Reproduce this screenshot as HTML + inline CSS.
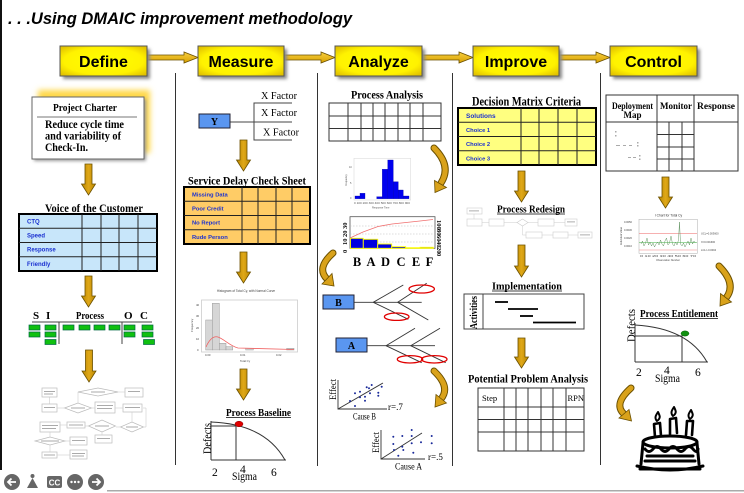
<!DOCTYPE html>
<html><head><meta charset="utf-8"><style>
html,body{margin:0;padding:0;background:#fff;}
svg{display:block;}
.se{font-family:"Liberation Serif",serif;}
.sa{font-family:"Liberation Sans",Arial,sans-serif;}
</style></head><body>
<svg width="744" height="493" viewBox="0 0 744 493" xmlns="http://www.w3.org/2000/svg">
<defs>
<radialGradient id="yg" cx="50%" cy="50%" r="65%">
<stop offset="0%" stop-color="#ffff00"/><stop offset="70%" stop-color="#fff200"/><stop offset="100%" stop-color="#e2c200"/>
</radialGradient>
<linearGradient id="ag" x1="0" y1="0" x2="1" y2="0">
<stop offset="0%" stop-color="#b88600"/><stop offset="50%" stop-color="#e0a818"/><stop offset="100%" stop-color="#b88600"/>
</linearGradient>
<linearGradient id="hg" x1="0" y1="0" x2="0" y2="1">
<stop offset="0%" stop-color="#f8d040"/><stop offset="100%" stop-color="#d8a000"/>
</linearGradient>
<filter id="bl" x="-20%" y="-20%" width="140%" height="140%"><feGaussianBlur stdDeviation="1.5"/></filter>
<filter id="bl3" x="-20%" y="-20%" width="140%" height="140%"><feGaussianBlur stdDeviation="3"/></filter>
</defs>

<!-- borders -->
<rect x="0" y="0" width="2" height="470" fill="#111"/>
<rect x="107" y="490" width="637" height="1.5" fill="#aaa"/>

<!-- title -->
<text x="8" y="24" class="sa" font-size="17" font-weight="bold" font-style="italic" textLength="344" lengthAdjust="spacingAndGlyphs">. . .Using DMAIC improvement methodology</text>

<!-- column dividers -->
<g stroke="#333" stroke-width="1">
<line x1="175.5" y1="73" x2="175.5" y2="465"/>
<line x1="317.5" y1="73" x2="317.5" y2="466"/>
<line x1="452.5" y1="73" x2="452.5" y2="466"/>
<line x1="600.5" y1="73" x2="600.5" y2="465"/>
</g>

<!-- phase arrows -->
<g fill="url(#hg)" stroke="#6b5000" stroke-width="0.8">
<polygon points="147,55 184,55 184,52 198,57.5 184,63 184,60 147,60"/>
<polygon points="284,55 321,55 321,52 335,57.5 321,63 321,60 284,60"/>
<polygon points="422,55 459,55 459,52 473,57.5 459,63 459,60 422,60"/>
<polygon points="559,55 596,55 596,52 610,57.5 596,63 596,60 559,60"/>
</g>

<!-- phase boxes -->
<g>
<rect x="63" y="49" width="87" height="30" fill="#888" filter="url(#bl)"/>
<rect x="201" y="49" width="86" height="30" fill="#888" filter="url(#bl)"/>
<rect x="338" y="49" width="87" height="30" fill="#888" filter="url(#bl)"/>
<rect x="476" y="49" width="86" height="30" fill="#888" filter="url(#bl)"/>
<rect x="613" y="49" width="87" height="30" fill="#888" filter="url(#bl)"/>
<g fill="url(#yg)" stroke="#555" stroke-width="1">
<rect x="60" y="46" width="87" height="30"/>
<rect x="198" y="46" width="86" height="30"/>
<rect x="335" y="46" width="87" height="30"/>
<rect x="473" y="46" width="86" height="30"/>
<rect x="610" y="46" width="87" height="30"/>
</g>
<g class="sa" font-size="16" font-weight="bold" text-anchor="middle" fill="#000">
<text x="103.5" y="67">Define</text>
<text x="241" y="67">Measure</text>
<text x="378.5" y="67">Analyze</text>
<text x="516" y="67">Improve</text>
<text x="653.5" y="67">Control</text>
</g>
</g>

<!-- down arrows -->
<g fill="url(#ag)" stroke="#6b5000" stroke-width="0.8">
<polygon points="85,164 92,164 92,184 95.5,184 88.5,195 81.5,184 85,184"/>
<polygon points="85,276 92,276 92,296 95.5,296 88.5,307 81.5,296 85,296"/>
<polygon points="85.5,350 92.5,350 92.5,371 96,371 89,382 82,371 85.5,371"/>
<polygon points="240,140 247,140 247,160 250.5,160 243.5,171 236.5,160 240,160"/>
<polygon points="240,252 247,252 247,272 250.5,272 243.5,283 236.5,272 240,272"/>
<polygon points="240,369 247,369 247,389 250.5,389 243.5,400 236.5,389 240,389"/>
<polygon points="518,171 525,171 525,191 528.5,191 521.5,202 514.5,191 518,191"/>
<polygon points="518,245 525,245 525,266 528.5,266 521.5,277 514.5,266 518,266"/>
<polygon points="518,338 525,338 525,357 528.5,357 521.5,368 514.5,357 518,357"/>
<polygon points="662,177 669,177 669,197 672.5,197 665.5,208 658.5,197 662,197"/>
</g>

<!-- curved arrows -->
<g fill="none" stroke-linecap="round">
<g stroke="#6b5000" stroke-width="7">
<path d="M434,148 Q452,166 441,183"/>
<path d="M333,253 Q316,268 327,279"/>
<path d="M434,371 Q451,387 441,399"/>
<path d="M719,266 Q737,284 726,298"/>
<path d="M631,388 Q613,404 624,414"/>
</g>
<g stroke="#d9a21a" stroke-width="5">
<path d="M434,148 Q452,166 441,183"/>
<path d="M333,253 Q316,268 327,279"/>
<path d="M434,371 Q451,387 441,399"/>
<path d="M719,266 Q737,284 726,298"/>
<path d="M631,388 Q613,404 624,414"/>
</g>
</g>
<g fill="#d9a21a" stroke="#6b5000" stroke-width="0.8">
<polygon points="446.5,187.5 434.5,180.5 435,192.5"/>
<polygon points="332,273.5 322,284 334,286"/>
<polygon points="446.5,403 436,394.5 435,407"/>
<polygon points="731.5,302 720.5,293.5 720,306"/>
<polygon points="629,409.5 619,418 631.5,421"/>
</g>

<!-- ========== DEFINE ========== -->
<rect x="38" y="90" width="112" height="63" fill="#ffd84a" filter="url(#bl3)"/>
<rect x="34" y="99" width="112" height="62" fill="#999" filter="url(#bl)"/>
<rect x="32" y="97" width="112" height="62" fill="#fff" stroke="#666" stroke-width="1"/>
<text x="53" y="111" class="se" font-size="10" font-weight="bold" textLength="64" lengthAdjust="spacingAndGlyphs">Project Charter</text>
<line x1="37" y1="117" x2="137" y2="117" stroke="#777" stroke-width="1"/>
<g class="se" font-size="11.5" font-weight="bold">
<text x="45" y="128" textLength="79" lengthAdjust="spacingAndGlyphs">Reduce cycle time</text>
<text x="45" y="139.5" textLength="76" lengthAdjust="spacingAndGlyphs">and variability of</text>
<text x="45" y="151" textLength="43" lengthAdjust="spacingAndGlyphs">Check-In.</text>
</g>

<text x="45" y="212" class="se" font-size="12" font-weight="bold" textLength="98" lengthAdjust="spacingAndGlyphs">Voice of the Customer</text>
<rect x="19" y="214" width="138" height="57" fill="#c8e6fa" stroke="#000" stroke-width="2"/>
<g stroke="#222" stroke-width="1">
<line x1="19" y1="228.25" x2="157" y2="228.25"/><line x1="19" y1="242.5" x2="157" y2="242.5"/><line x1="19" y1="256.75" x2="157" y2="256.75"/>
<line x1="82" y1="214" x2="82" y2="271"/><line x1="101" y1="214" x2="101" y2="271"/><line x1="119" y1="214" x2="119" y2="271"/><line x1="138" y1="214" x2="138" y2="271"/>
</g>
<g class="sa" font-size="6" font-weight="bold" fill="#1a30d0">
<text x="27" y="223.5">CTQ</text><text x="27" y="237.5">Speed</text><text x="27" y="251.5">Response</text><text x="27" y="266">Friendly</text>
</g>

<!-- SIPOC -->
<g class="se" font-size="11" font-weight="bold">
<text x="33" y="319">S</text><text x="46" y="319">I</text>
<text x="76" y="319" textLength="28" lengthAdjust="spacingAndGlyphs">Process</text>
<text x="124" y="319">O</text><text x="140" y="319">C</text>
</g>
<g stroke="#444" stroke-width="1">
<line x1="32" y1="322" x2="152" y2="322"/>
<line x1="59" y1="322" x2="59" y2="344"/>
<line x1="122" y1="322" x2="122" y2="344"/>
</g>
<g fill="#10c010" stroke="#064" stroke-width="0.7">
<rect x="29" y="325" width="11" height="5"/><rect x="29" y="332" width="11" height="5"/>
<rect x="45" y="325" width="11" height="5"/><rect x="45" y="332" width="11" height="5"/><rect x="45" y="339.5" width="11" height="5"/>
<rect x="63" y="325" width="11" height="5"/><rect x="79" y="325" width="11" height="5"/><rect x="94" y="325" width="11" height="5"/><rect x="109" y="325" width="11" height="5"/>
<rect x="124" y="325" width="11" height="5"/><rect x="124" y="332" width="11" height="5"/>
<rect x="142" y="325" width="11" height="5"/><rect x="142" y="332" width="11" height="5"/><rect x="143.5" y="339.5" width="11" height="5"/>
</g>

<!-- tiny flowchart -->
<g fill="#fff" stroke="#bbb" stroke-width="0.7">
<rect x="42" y="388" width="15" height="9"/>
<polygon points="78,392 98,388 118,392 98,396"/>
<rect x="125" y="388" width="18" height="9"/>
<rect x="42" y="404" width="15" height="8"/>
<polygon points="64.5,408 78,403 91.5,408 78,413"/>
<rect x="95" y="402" width="20" height="11"/>
<rect x="123" y="404" width="19" height="8"/>
<rect x="40" y="422" width="20" height="10"/>
<rect x="67" y="422" width="18" height="6"/>
<polygon points="88.5,426 102,420 115.5,426 102,432"/>
<polygon points="120.5,427 132,422 143.5,427 132,432"/>
<rect x="95" y="435" width="17" height="8"/>
<polygon points="35,441 50,437 65,441 50,445"/>
<rect x="70" y="437" width="17" height="8"/>
<rect x="42" y="452" width="15" height="6"/>
<rect x="70" y="450" width="17" height="9"/>
</g>
<g stroke="#ccc" stroke-width="0.6">
<line x1="49.5" y1="397" x2="49.5" y2="404"/><line x1="57" y1="408" x2="64" y2="408"/><line x1="91" y1="408" x2="95" y2="408"/>
<line x1="78" y1="403" x2="78" y2="392"/><line x1="118" y1="392" x2="125" y2="392"/><line x1="115" y1="408" x2="123" y2="408"/>
<line x1="132" y1="412" x2="132" y2="422"/><line x1="120" y1="427" x2="116" y2="427"/><line x1="88" y1="426" x2="85" y2="426"/>
<line x1="67" y1="425" x2="60" y2="425"/><line x1="102" y1="432" x2="102" y2="435"/><line x1="50" y1="432" x2="50" y2="437"/>
<line x1="65" y1="441" x2="70" y2="441"/><line x1="50" y1="445" x2="50" y2="452"/><line x1="57" y1="455" x2="70" y2="455"/>
<line x1="143" y1="408" x2="146" y2="408"/><line x1="146" y1="408" x2="146" y2="427"/><line x1="146" y1="427" x2="143" y2="427"/>
</g>
<g fill="#aaa">
<rect x="44" y="391" width="11" height="1"/><rect x="44" y="393.5" width="9" height="1"/>
<rect x="91" y="391.5" width="14" height="1"/><rect x="128" y="391" width="12" height="1"/>
<rect x="44" y="407" width="11" height="1"/><rect x="71" y="407.5" width="14" height="1"/><rect x="97" y="405" width="16" height="1"/><rect x="97" y="408" width="15" height="1"/>
<rect x="125" y="407" width="15" height="1"/><rect x="42" y="425" width="16" height="1"/><rect x="42" y="428" width="14" height="1"/>
<rect x="69" y="424.5" width="14" height="1"/><rect x="95" y="425.5" width="14" height="1"/><rect x="126" y="426.5" width="12" height="1"/>
<rect x="97" y="438" width="13" height="1"/><rect x="41" y="440.5" width="18" height="1"/><rect x="72" y="440" width="13" height="1"/>
<rect x="44" y="454.5" width="11" height="1"/><rect x="72" y="453" width="13" height="1"/><rect x="72" y="455.5" width="12" height="1"/>
</g>

<!-- nav icons -->
<g>
<circle cx="12" cy="482" r="8" fill="#666"/>
<path d="M16,482 H8 M11.5,478.5 L8,482 L11.5,485.5" stroke="#fff" stroke-width="1.8" fill="none"/>
<polygon points="32.5,478 27,488 38,488" fill="#666"/>
<circle cx="32.5" cy="476" r="2" fill="#666"/>
<rect x="47" y="476" width="15" height="12" rx="2" fill="#666"/>
<text x="54.5" y="485.5" class="sa" font-size="8" font-weight="bold" fill="#fff" text-anchor="middle">CC</text>
<circle cx="75" cy="482" r="8" fill="#666"/>
<circle cx="71.5" cy="482" r="1.2" fill="#fff"/><circle cx="75" cy="482" r="1.2" fill="#fff"/><circle cx="78.5" cy="482" r="1.2" fill="#fff"/>
<circle cx="96" cy="482" r="8" fill="#666"/>
<path d="M92,482 H100 M96.5,478.5 L100,482 L96.5,485.5" stroke="#fff" stroke-width="1.8" fill="none"/>
</g>

<!-- ========== MEASURE ========== -->
<g class="se" font-size="10.5">
<text x="261" y="99" textLength="36" lengthAdjust="spacingAndGlyphs">X Factor</text>
<text x="261" y="116" textLength="36" lengthAdjust="spacingAndGlyphs">X Factor</text>
<text x="263" y="135.5" textLength="36" lengthAdjust="spacingAndGlyphs">X Factor</text>
</g>
<g stroke="#444" stroke-width="1" fill="none">
<polyline points="292,103 254,103 254,140 292,140"/>
<line x1="230" y1="122" x2="292" y2="122"/>
</g>
<rect x="199" y="114" width="31" height="14" fill="#5a96f0" stroke="#223" stroke-width="1"/>
<text x="214.5" y="125" class="se" font-size="10" font-weight="bold" text-anchor="middle">Y</text>

<text x="188" y="184.5" class="se" font-size="12" font-weight="bold" textLength="118" lengthAdjust="spacingAndGlyphs">Service Delay Check Sheet</text>
<rect x="184" y="187" width="126" height="57" fill="#ffcc66" stroke="#000" stroke-width="2"/>
<g stroke="#222" stroke-width="1">
<line x1="184" y1="201.25" x2="310" y2="201.25"/><line x1="184" y1="215.5" x2="310" y2="215.5"/><line x1="184" y1="229.75" x2="310" y2="229.75"/>
<line x1="242" y1="187" x2="242" y2="244"/><line x1="258" y1="187" x2="258" y2="244"/><line x1="276" y1="187" x2="276" y2="244"/><line x1="292" y1="187" x2="292" y2="244"/>
</g>
<g class="sa" font-size="5.8" font-weight="bold" fill="#1a30d0">
<text x="192" y="196.5">Missing Data</text><text x="192" y="210.5">Poor Credit</text><text x="192" y="224.5">No Report</text><text x="192" y="239">Rude Person</text>
</g>

<!-- gray histogram -->
<text x="246" y="292" class="sa" font-size="3.2" fill="#444" text-anchor="middle">Histogram of Total Cy, with Normal Curve</text>
<rect x="201.5" y="300" width="96" height="52" fill="#fff" stroke="#ccc" stroke-width="0.8"/>
<g fill="#d6d6d6" stroke="#999" stroke-width="0.5">
<rect x="205.7" y="320" width="6.6" height="30"/>
<rect x="212.3" y="303.3" width="7" height="46.7"/>
<rect x="219.3" y="343.3" width="6.7" height="6.7"/>
<rect x="226" y="346.7" width="6.7" height="3.3"/>
<rect x="245.7" y="348.3" width="7.6" height="1.7"/>
<rect x="286.7" y="348.3" width="7.3" height="1.7"/>
</g>
<path d="M206,347 C210,338 214,336 218,337 C224,339 230,346 238,348 L294,349.5" fill="none" stroke="#f06060" stroke-width="0.8"/>
<g class="sa" font-size="2.8" fill="#444">
<text x="196" y="306">40</text><text x="196" y="317">30</text><text x="196" y="329">20</text><text x="196" y="340">10</text><text x="197" y="351">0</text>
<text x="205" y="356">0.00</text><text x="240" y="356">0.01</text><text x="276" y="356">0.02</text>
<text x="240" y="362">Total Cy</text>
<text transform="translate(193,332) rotate(-90)">Frequency</text>
</g>

<!-- process baseline -->
<text x="226" y="416" class="se" font-size="10.5" font-weight="bold" textLength="65" lengthAdjust="spacingAndGlyphs">Process Baseline</text>
<line x1="226" y1="417.5" x2="291" y2="417.5" stroke="#000" stroke-width="0.8"/>
<g stroke="#333" stroke-width="1" fill="none">
<line x1="211" y1="421" x2="211" y2="460"/>
<line x1="211" y1="460" x2="286" y2="460"/>
<path d="M211,422 Q265,424 285,460"/>
<polyline points="211,426 236,426 236,460"/>
</g>
<ellipse cx="239" cy="424" rx="4" ry="2.8" fill="#e00000" stroke="#800" stroke-width="0.5"/>
<text transform="translate(211,454) rotate(-90)" class="se" font-size="12" textLength="31" lengthAdjust="spacingAndGlyphs">Defects</text>
<g class="se" font-size="11.5">
<text x="212" y="476">2</text><text x="240" y="473">4</text><text x="271" y="476">6</text>
<text x="232" y="480" textLength="25" lengthAdjust="spacingAndGlyphs">Sigma</text>
</g>

<!-- ========== ANALYZE ========== -->
<text x="351" y="98.5" class="se" font-size="12" font-weight="bold" textLength="72" lengthAdjust="spacingAndGlyphs">Process Analysis</text>
<rect x="329" y="103" width="112" height="38" fill="#fff" stroke="#333" stroke-width="1"/>
<g stroke="#333" stroke-width="1">
<line x1="329" y1="116" x2="441" y2="116"/><line x1="329" y1="128.5" x2="441" y2="128.5"/>
<line x1="348" y1="103" x2="348" y2="141"/><line x1="361" y1="103" x2="361" y2="141"/><line x1="373" y1="103" x2="373" y2="141"/><line x1="385" y1="103" x2="385" y2="141"/><line x1="398" y1="103" x2="398" y2="141"/><line x1="410" y1="103" x2="410" y2="141"/><line x1="423" y1="103" x2="423" y2="141"/>
</g>

<!-- blue histogram -->
<rect x="354" y="158.3" width="56.7" height="41.7" fill="#fff" stroke="#ddd" stroke-width="0.6"/>
<g fill="#0000ee" stroke="#0000a0" stroke-width="0.3">
<rect x="355" y="196" width="5" height="2.7"/>
<rect x="360" y="193.3" width="5" height="5.4"/>
<rect x="376.7" y="196.7" width="5.6" height="2"/>
<rect x="382.3" y="169.3" width="5.4" height="29.4"/>
<rect x="387.7" y="160" width="5.6" height="38.7"/>
<rect x="393.3" y="181.7" width="5" height="17"/>
<rect x="398.3" y="190" width="5" height="8.7"/>
<rect x="403.3" y="196" width="5.7" height="2.7"/>
</g>
<g class="sa" font-size="2.5" fill="#555">
<text x="349" y="168">10</text><text x="350" y="184">5</text><text x="350" y="199">0</text>
<text x="354" y="204" textLength="56" lengthAdjust="spacingAndGlyphs">0 100 200 300 400 500 600 700 800 900</text>
<text x="372" y="208.5">Response Time</text>
<text transform="translate(347,186) rotate(-90)">Frequency</text>
</g>

<!-- pareto -->
<rect x="350" y="216.7" width="85" height="31.6" fill="#fff" stroke="#555" stroke-width="0.8"/>
<g stroke="#bbb" stroke-width="0.5" stroke-dasharray="1.5,1.5">
<line x1="350" y1="226" x2="435" y2="226"/><line x1="350" y1="234" x2="435" y2="234"/><line x1="350" y1="242" x2="435" y2="242"/>
</g>
<g fill="#0000e0" stroke="#ffff00" stroke-width="0.9">
<rect x="350.5" y="238.3" width="12.8" height="10"/>
<rect x="363.3" y="239.3" width="14.4" height="9"/>
<rect x="377.7" y="244" width="14" height="4.3"/>
<rect x="391.7" y="246.7" width="14" height="1.6"/>
<rect x="405.7" y="247.7" width="14.3" height="0.6"/>
<rect x="420" y="247.3" width="13.3" height="1"/>
</g>
<polyline points="350,238 363,232 378,226.5 392,224 406,222.5 420,221 433,219.5" fill="none" stroke="#f07070" stroke-width="0.8"/>
<g class="se" font-size="6.5" font-weight="bold">
<text transform="translate(347,229) rotate(-90)">30</text>
<text transform="translate(347,237) rotate(-90)">20</text>
<text transform="translate(347,245) rotate(-90)">10</text>
<text transform="translate(347,253) rotate(-90)">0</text>
<text transform="translate(437,220) rotate(90)">100</text>
<text transform="translate(437,229) rotate(90)">80</text>
<text transform="translate(437,235) rotate(90)">60</text>
<text transform="translate(437,241) rotate(90)">40</text>
<text transform="translate(437,247) rotate(90)">20</text>
<text transform="translate(437,253) rotate(90)">0</text>
</g>
<g class="se" font-size="12.5" font-weight="bold" text-anchor="middle">
<text x="357" y="266">B</text><text x="371" y="266">A</text><text x="385.5" y="266">D</text><text x="401" y="266">C</text><text x="416" y="266">E</text><text x="429.5" y="266">F</text>
</g>

<!-- fishbone B -->
<rect x="323" y="295" width="31" height="14" fill="#5a96f0" stroke="#223" stroke-width="1"/>
<text x="338.5" y="306" class="se" font-size="10" font-weight="bold" text-anchor="middle">B</text>
<g stroke="#333" stroke-width="0.9" fill="none">
<line x1="354" y1="302.3" x2="421.7" y2="302.3"/>
<line x1="373.3" y1="302.3" x2="403.3" y2="285"/>
<line x1="373.3" y1="302.3" x2="408.3" y2="319.3"/>
<line x1="397.7" y1="302.3" x2="426.7" y2="283.3"/>
<line x1="397.7" y1="302.3" x2="428.3" y2="320"/>
</g>
<g fill="none" stroke="#e00000" stroke-width="1.3">
<ellipse cx="421.7" cy="289" rx="12.7" ry="4"/>
<ellipse cx="396.7" cy="316.7" rx="12.3" ry="3.7"/>
</g>
<!-- fishbone A -->
<rect x="336" y="338" width="31" height="14" fill="#5a96f0" stroke="#223" stroke-width="1"/>
<text x="351.5" y="349" class="se" font-size="10" font-weight="bold" text-anchor="middle">A</text>
<g stroke="#333" stroke-width="0.9" fill="none">
<line x1="367" y1="345.7" x2="435" y2="345.7"/>
<line x1="386" y1="345.7" x2="415" y2="328.3"/>
<line x1="386" y1="345.7" x2="421.7" y2="362.7"/>
<line x1="410.7" y1="345.7" x2="440" y2="328.3"/>
<line x1="410.7" y1="345.7" x2="445.7" y2="362.7"/>
</g>
<g fill="none" stroke="#e00000" stroke-width="1.3">
<ellipse cx="410" cy="359.3" rx="12.7" ry="3.7"/>
<ellipse cx="434.3" cy="359.3" rx="12.7" ry="3.7"/>
</g>

<!-- scatter 1 -->
<g stroke="#333" stroke-width="0.9" fill="none">
<polyline points="338,380 338,409 387,409"/>
<line x1="338" y1="409" x2="383" y2="383"/>
</g>
<g fill="#1a2a9a">
<circle cx="355" cy="393.3" r="1"/><circle cx="366.7" cy="387.3" r="1"/><circle cx="371.7" cy="385" r="1"/><circle cx="369" cy="388.3" r="1"/><circle cx="381.7" cy="386.7" r="1"/><circle cx="350" cy="401" r="1"/><circle cx="360" cy="397.3" r="1"/><circle cx="365" cy="396.7" r="1"/><circle cx="370" cy="393.3" r="1"/><circle cx="378.3" cy="392.7" r="1"/><circle cx="378.3" cy="395.7" r="1"/><circle cx="365" cy="400.7" r="1"/><circle cx="355" cy="406" r="1"/><circle cx="360" cy="391.7" r="1"/>
</g>
<g class="se" font-size="9">
<text transform="translate(336,400) rotate(-90)" textLength="21" lengthAdjust="spacingAndGlyphs">Effect</text>
<text x="353" y="419.5" textLength="23" lengthAdjust="spacingAndGlyphs">Cause B</text>
<text x="388" y="410">r=.7</text>
</g>
<!-- scatter 2 -->
<g stroke="#333" stroke-width="0.9" fill="none">
<polyline points="381,430 381,459 425,459"/>
<line x1="381" y1="459" x2="422" y2="433"/>
</g>
<g fill="#1a2a9a">
<circle cx="393.3" cy="436.7" r="1"/><circle cx="402.3" cy="436" r="1"/><circle cx="411.7" cy="430" r="1"/><circle cx="411.7" cy="436" r="1"/><circle cx="431.7" cy="436" r="1"/><circle cx="393.3" cy="444" r="1"/><circle cx="402.3" cy="446.7" r="1"/><circle cx="411.7" cy="443.3" r="1"/><circle cx="421" cy="442.3" r="1"/><circle cx="431.7" cy="443.3" r="1"/><circle cx="394" cy="450" r="1"/><circle cx="398.3" cy="455.7" r="1"/><circle cx="413.3" cy="452.7" r="1"/><circle cx="403.3" cy="450" r="1"/>
</g>
<g class="se" font-size="9">
<text transform="translate(379,453) rotate(-90)" textLength="21" lengthAdjust="spacingAndGlyphs">Effect</text>
<text x="395" y="469.5" textLength="27" lengthAdjust="spacingAndGlyphs">Cause A</text>
<text x="428" y="460">r=.5</text>
</g>

<!-- ========== IMPROVE ========== -->
<text x="472" y="105.5" class="se" font-size="12.5" font-weight="bold" textLength="109" lengthAdjust="spacingAndGlyphs">Decision Matrix Criteria</text>
<rect x="458" y="108" width="138" height="57" fill="#ffff80" stroke="#000" stroke-width="2"/>
<g stroke="#222" stroke-width="1">
<line x1="458" y1="122.25" x2="596" y2="122.25"/><line x1="458" y1="136.5" x2="596" y2="136.5"/><line x1="458" y1="150.75" x2="596" y2="150.75"/>
<line x1="521" y1="108" x2="521" y2="165"/><line x1="539" y1="108" x2="539" y2="165"/><line x1="558" y1="108" x2="558" y2="165"/><line x1="577" y1="108" x2="577" y2="165"/>
</g>
<g class="sa" font-weight="bold" fill="#1a30d0">
<text x="466" y="118" font-size="6.5">Solutions</text>
<text x="466" y="132" font-size="5.8">Choice 1</text><text x="466" y="146" font-size="5.8">Choice 2</text><text x="466" y="160.5" font-size="5.8">Choice 3</text>
</g>

<text x="497" y="212.5" class="se" font-size="10.5" font-weight="bold" textLength="68" lengthAdjust="spacingAndGlyphs">Process Redesign</text>
<line x1="497" y1="214" x2="565" y2="214" stroke="#000" stroke-width="0.8"/>
<g fill="#fff" stroke="#ccc" stroke-width="0.6">
<rect x="467" y="208" width="15" height="6"/>
<rect x="467" y="219" width="15" height="7"/><rect x="489" y="219" width="15" height="7"/>
<polygon points="517,222.5 522.5,219 528,222.5 522.5,226"/>
<rect x="538" y="219" width="16" height="7"/><rect x="565" y="219" width="12" height="7"/>
<rect x="526" y="232" width="16" height="6"/><rect x="553" y="232" width="15" height="6"/><rect x="578" y="232" width="14" height="6"/>
</g>
<g stroke="#ccc" stroke-width="0.5">
<line x1="474" y1="214" x2="474" y2="219"/><line x1="482" y1="222.5" x2="489" y2="222.5"/><line x1="504" y1="222.5" x2="517" y2="222.5"/><line x1="528" y1="222.5" x2="538" y2="222.5"/><line x1="554" y1="222.5" x2="565" y2="222.5"/>
<polyline points="522.5,226 522.5,235 526,235" fill="none"/><line x1="542" y1="235" x2="553" y2="235"/><line x1="568" y1="235" x2="578" y2="235"/>
</g>
<g fill="#999">
<rect x="469" y="210.5" width="10" height="0.8"/><rect x="567" y="221.5" width="8" height="0.8"/><rect x="580" y="234.5" width="10" height="0.8"/>
</g>

<text x="492" y="289.5" class="se" font-size="10.5" font-weight="bold" textLength="70" lengthAdjust="spacingAndGlyphs">Implementation</text>
<line x1="492" y1="291" x2="562" y2="291" stroke="#000" stroke-width="0.8"/>
<rect x="464" y="294" width="120" height="35" fill="#fff" stroke="#444" stroke-width="1"/>
<line x1="483" y1="294" x2="483" y2="329" stroke="#444" stroke-width="1"/>
<text transform="translate(477,329) rotate(-90)" class="se" font-size="10.5" font-weight="bold" textLength="33" lengthAdjust="spacingAndGlyphs">Activities</text>
<g stroke="#000" stroke-width="1.8">
<line x1="495" y1="302" x2="508" y2="302"/>
<line x1="508" y1="309" x2="538" y2="309"/>
<line x1="520" y1="316" x2="533" y2="316"/>
<line x1="533" y1="322.5" x2="576" y2="322.5"/>
</g>

<text x="468" y="382.5" class="se" font-size="12" font-weight="bold" textLength="120" lengthAdjust="spacingAndGlyphs">Potential Problem Analysis</text>
<rect x="478" y="388" width="106" height="63" fill="#fff" stroke="#333" stroke-width="1"/>
<g stroke="#333" stroke-width="1">
<line x1="478" y1="407" x2="584" y2="407"/><line x1="478" y1="419.5" x2="584" y2="419.5"/><line x1="478" y1="432" x2="584" y2="432"/>
<line x1="504" y1="388" x2="504" y2="451"/><line x1="516" y1="388" x2="516" y2="451"/><line x1="528" y1="388" x2="528" y2="451"/><line x1="541" y1="388" x2="541" y2="451"/><line x1="553" y1="388" x2="553" y2="451"/><line x1="566" y1="388" x2="566" y2="451"/>
</g>
<g class="se" font-size="8.5">
<text x="482" y="401">Step</text><text x="567.5" y="401">RPN</text>
</g>

<!-- ========== CONTROL ========== -->
<rect x="606" y="95" width="132" height="76" fill="#fff" stroke="#333" stroke-width="1"/>
<g stroke="#333" stroke-width="1">
<line x1="606" y1="122" x2="738" y2="122"/>
<line x1="657" y1="95" x2="657" y2="171"/><line x1="694" y1="95" x2="694" y2="171"/>
<line x1="657" y1="134.5" x2="694" y2="134.5"/><line x1="657" y1="147" x2="694" y2="147"/><line x1="657" y1="159" x2="694" y2="159"/>
<line x1="669" y1="122" x2="669" y2="171"/><line x1="682" y1="122" x2="682" y2="171"/>
</g>
<g class="se" font-size="9" font-weight="bold" text-anchor="middle">
<text x="632.5" y="109" textLength="41" lengthAdjust="spacingAndGlyphs">Deployment</text>
<text x="632.5" y="118">Map</text>
<text x="676" y="109" textLength="32" lengthAdjust="spacingAndGlyphs">Monitor</text>
<text x="716" y="109" textLength="38" lengthAdjust="spacingAndGlyphs">Response</text>
</g>
<g fill="#aaa">
<rect x="615" y="131" width="1.5" height="1.5"/><rect x="615" y="135" width="1.5" height="1.5"/><rect x="616" y="145" width="4" height="1"/><rect x="623" y="145" width="3" height="1"/><rect x="629" y="145" width="3" height="1"/><rect x="637" y="142" width="1.5" height="1.5"/><rect x="637" y="145" width="1.5" height="1.5"/>
<rect x="628" y="157" width="3" height="1"/><rect x="633" y="157" width="3" height="1"/><rect x="639" y="155" width="1.5" height="1.5"/><rect x="639" y="158.5" width="1.5" height="1.5"/>
</g>

<!-- I chart -->
<text x="668.5" y="216.5" class="sa" font-size="3.3" fill="#333" text-anchor="middle">I Chart for Total Cy</text>
<rect x="639" y="219.3" width="58.3" height="34" fill="#fff" stroke="#bbb" stroke-width="0.6"/>
<line x1="639" y1="233.3" x2="697" y2="233.3" stroke="#f08080" stroke-width="0.6"/>
<line x1="639" y1="250" x2="697" y2="250" stroke="#f08080" stroke-width="0.6"/>
<line x1="639" y1="242.7" x2="697" y2="242.7" stroke="#60c060" stroke-width="0.6"/>
<polyline points="641,244 642.5,241 644,246 645.5,243 647,238 648.5,245 650,242 651.5,246 653,243 654.5,247 656,244 657.5,242 659,245 660.5,240 662,244 663.5,246 665,241 666.5,238 668,245 669.5,243 671,236 672.5,244 674,246 675.5,242 677,245 678.5,240 679.5,222 680.5,244 682,246 683.5,243 685,247 686.5,244 688,241 689.5,245 691,238 692.5,244 694,241 695.5,243" fill="none" stroke="#6a9a6a" stroke-width="0.5"/>
<g class="sa" font-size="2.6" fill="#444">
<text x="624" y="223">0.0050</text><text x="624" y="231">0.0030</text><text x="624" y="239">0.0020</text><text x="624" y="247">0.0010</text>
<text x="701" y="234.5">UCL=0.003600</text><text x="701" y="243">X=0.001600</text><text x="701" y="251">LCL=-0.0004</text>
<text x="640" y="257" textLength="56" lengthAdjust="spacingAndGlyphs">0 10 20 30 40 50 60 70</text>
<text x="656" y="261">Observation Number</text>
<text transform="translate(622,245) rotate(-90)">Individual Value</text>
</g>

<!-- process entitlement -->
<text x="640" y="317" class="se" font-size="10.5" font-weight="bold" textLength="78" lengthAdjust="spacingAndGlyphs">Process Entitlement</text>
<line x1="640" y1="318.5" x2="718" y2="318.5" stroke="#000" stroke-width="0.8"/>
<text transform="translate(635,342) rotate(-90)" class="se" font-size="12" textLength="33" lengthAdjust="spacingAndGlyphs">Defects</text>
<g stroke="#333" stroke-width="1" fill="none">
<line x1="635" y1="323" x2="635" y2="362"/>
<line x1="635" y1="362" x2="708" y2="362"/>
<path d="M635,325 Q688,328 707,362"/>
<polyline points="635,336 682,336 682,362"/>
</g>
<ellipse cx="685" cy="333.5" rx="4" ry="2.6" fill="#109010" stroke="#050" stroke-width="0.5"/>
<g class="se" font-size="11.5">
<text x="636" y="376">2</text><text x="664" y="374">4</text><text x="695" y="376">6</text>
<text x="655" y="382" textLength="25" lengthAdjust="spacingAndGlyphs">Sigma</text>
</g>

<!-- cake -->
<g fill="none" stroke="#000" stroke-linecap="round" stroke-linejoin="round">
<g stroke-width="2.6">
<path d="M655,437 L654,424 L660,423 L661,436"/>
<path d="M670,434 L670,419 L676,418 L677,433"/>
<path d="M686,435 L687,421 L693,421 L692,435"/>
</g>
<g stroke-width="2">
<path d="M657,421 C654,418 656,415 658,412 C660,416 661,418 657,421 Z"/>
<path d="M673,416 C670,413 672,410 674,407 C676,411 677,413 673,416 Z"/>
<path d="M690,419 C687,416 689,413 691,410 C693,414 694,416 690,419 Z"/>
</g>
<g stroke-width="3">
<ellipse cx="670" cy="442" rx="27" ry="6"/>
<path d="M645,449 q4,5 8,0 t8,0 t8,0 t8,0 t8,0 t8,0 t5,0"/>
<path d="M643,443 L641,464"/>
<path d="M697,443 L699,464"/>
<path d="M647,456 L693,456"/>
<path d="M645,461 L695,461"/>
<path d="M637,466 Q670,474 703,466"/>
<path d="M640,469 L700,469"/>
</g>
</g>
</svg>
</body></html>
